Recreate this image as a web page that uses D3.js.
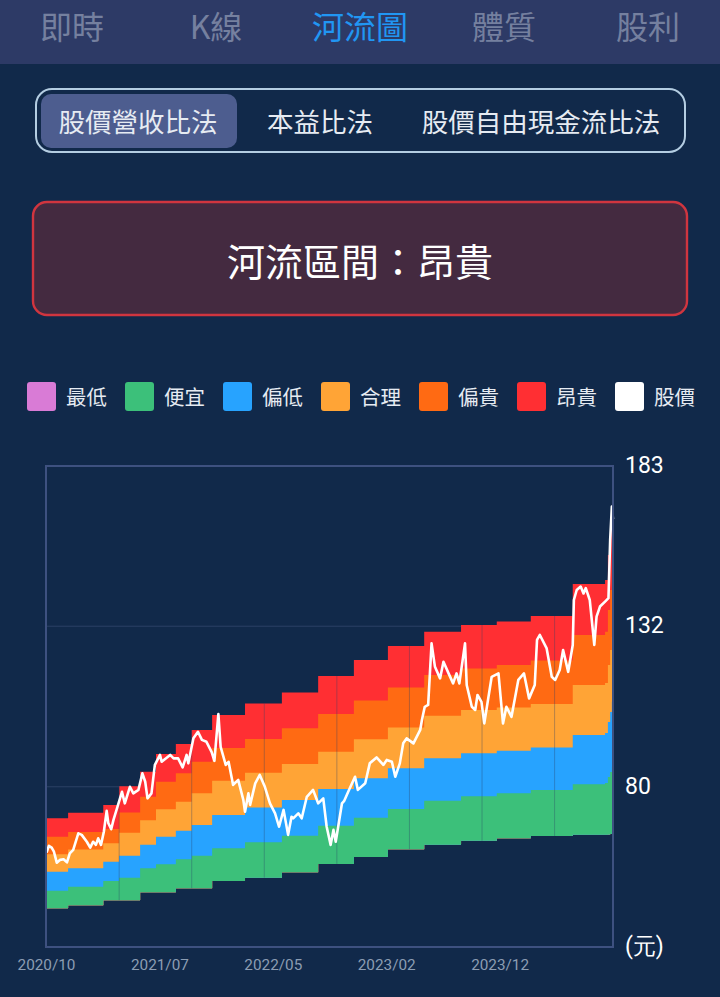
<!DOCTYPE html>
<html>
<head>
<meta charset="utf-8">
<title>河流圖</title>
<script src="https://cdn.jsdelivr.net/npm/d3@7"></script>
<style>
html, body { margin: 0; padding: 0; background: #11294a; }
svg { display: block; }
text { font-family: "Noto Sans CJK TC", sans-serif; }
.num text { font-family: Roboto, sans-serif; }
</style>
</head>
<body>
<div id="chart"></div>
<script>
// tabs and legend
var tabs = ["即時", "K線", "河流圖", "體質", "股利"];
var methods = ["股價營收比法", "本益比法", "股價自由現金流比法"];
var legendNames = ["最低", "便宜", "偏低", "合理", "偏貴", "昂貴", "股價"];
var legendColors = ["#d97bd6", "#3cc07a", "#27a3ff", "#ffa436", "#ff6a13", "#ff2f33", "#ffffff"];
var status = "河流區間\uFF1A昂貴";

// axes
var yTicks = [183, 131.7, 80.3, 29];
var xTicks = [0, 200, 400, 600, 800];
var xLabels = ["2020/10", "2021/07", "2022/05", "2023/02", "2023/12"];
var gridSessions = [129, 257, 385, 513, 641, 769, 897];

// river bands, one value per step, step starts at stepSessions
var stepSessions = [0, 39, 101, 129, 166, 194, 229, 257, 293, 351, 416, 480, 543, 603, 667, 732, 795, 855, 929, 986, 991, 995, 998, 1000];
var floorLine = [41.4, 42.4, 44.0, 44.0, 46.5, 46.5, 47.8, 47.8, 50.1, 51.2, 52.9, 55.6, 57.8, 60.3, 61.7, 63.0, 63.8, 64.5, 64.9, 64.9, 65.0, 65.2, 65.7, 65.7];
var cheapLine = [47.0, 48.3, 50.1, 51.2, 54.2, 55.5, 57.1, 58.2, 60.6, 62.5, 64.6, 67.8, 70.4, 73.2, 75.8, 77.3, 78.2, 79.3, 81.1, 81.5, 83.4, 85.0, 86.7, 86.7];
var lowLine = [53.1, 54.2, 56.3, 58.2, 61.7, 64.3, 66.2, 68.1, 71.3, 73.7, 76.1, 79.6, 83.0, 86.2, 89.4, 91.0, 91.8, 92.9, 96.9, 97.5, 101.0, 104.2, 107.5, 107.5];
var fairLine = [58.7, 60.2, 62.2, 65.6, 69.6, 73.1, 75.5, 78.2, 82.2, 84.8, 87.6, 91.5, 95.5, 99.3, 103.0, 104.9, 105.7, 106.8, 112.9, 113.5, 119.3, 124.1, 128.3, 128.3];
var highLine = [64.3, 65.8, 66.8, 72.1, 77.1, 81.9, 84.6, 88.3, 92.7, 95.6, 99.0, 103.6, 107.9, 112.1, 116.1, 118.2, 119.3, 120.7, 128.9, 129.9, 136.9, 143.3, 149.7, 149.7];
var dearLine = [70.2, 72.0, 74.5, 80.5, 85.1, 90.8, 94.0, 98.5, 103.3, 107.0, 110.5, 115.8, 120.9, 125.4, 129.9, 132.1, 133.2, 135.0, 145.2, 146.5, 154.5, 164.1, 169.9, 169.9];

// stock price
var priceSessions = [1, 5, 10, 14, 19, 25, 31, 37, 42, 48, 57, 63, 72, 78, 83, 88, 92, 97, 102, 107, 110, 115, 119, 126, 134, 139, 148, 154, 163, 170, 175, 179, 186, 192, 201, 204, 219, 225, 233, 241, 248, 251, 260, 268, 275, 283, 292, 297, 304, 308, 317, 322, 330, 339, 348, 351, 357, 360, 369, 377, 386, 395, 404, 411, 419, 427, 433, 436, 445, 451, 460, 471, 480, 489, 495, 502, 507, 511, 522, 526, 533, 545, 550, 563, 571, 583, 595, 601, 610, 616, 624, 630, 636, 648, 660, 663, 668, 674, 680, 686, 695, 701, 710, 718, 724, 729, 739, 742, 751, 757, 761, 768, 773, 786, 798, 806, 812, 821, 833, 843, 852, 862, 866, 871, 883, 892, 898, 906, 912, 921, 929, 931, 936, 943, 948, 952, 959, 967, 971, 977, 986, 992, 995, 998, 1000];
var priceValues = [59.2, 61.4, 60.8, 59.5, 56.0, 56.9, 57.1, 56.1, 59.0, 60.1, 65.4, 64.9, 62.7, 60.8, 62.7, 61.7, 63.8, 61.7, 65.9, 72.6, 68.6, 66.7, 69.7, 73.9, 78.7, 75.0, 80.3, 78.2, 79.3, 84.6, 81.9, 76.6, 78.2, 87.3, 90.5, 88.3, 90.5, 89.4, 89.4, 86.5, 90.5, 87.8, 95.8, 97.9, 95.3, 94.7, 91.5, 88.6, 103.6, 93.1, 87.3, 88.3, 80.9, 82.5, 76.1, 72.3, 78.2, 74.5, 81.4, 84.1, 80.3, 75.0, 71.8, 67.5, 72.9, 64.9, 70.7, 70.2, 71.8, 70.2, 77.1, 79.3, 75.0, 76.6, 67.5, 61.7, 66.5, 62.7, 75.0, 75.8, 78.7, 83.5, 79.3, 81.4, 87.8, 89.7, 87.3, 88.9, 88.3, 83.5, 87.8, 94.2, 95.8, 94.2, 98.5, 101.7, 105.9, 106.5, 126.2, 118.7, 115.0, 120.3, 116.6, 113.4, 116.6, 113.4, 126.2, 112.9, 105.9, 104.9, 109.7, 107.5, 100.6, 115.5, 116.6, 100.6, 105.9, 102.7, 114.5, 116.6, 108.6, 112.9, 127.3, 128.9, 124.6, 115.5, 114.5, 117.7, 124.1, 117.1, 125.7, 140.1, 143.3, 144.4, 142.2, 143.9, 140.1, 125.7, 134.8, 138.0, 139.6, 140.7, 159.3, 170.0, 166.0];

function init() {
    var w = 720;
    var h = 997;
    var plot = { left: 46, right: 613, top: 466, bottom: 947 };

    var svg = d3.select("#chart")
                .append("svg")
                .attr("width", w)
                .attr("height", h);

    svg.append("rect").attr("width", w).attr("height", h).attr("fill", "#11294a");

    drawHeader(svg, w);
    drawLegend(svg);

    var x = d3.scaleLinear().domain([0, 1000]).range([plot.left, plot.right]);
    var y = d3.scaleLinear().domain([29, 183]).range([plot.bottom, plot.top]);

    // horizontal grid under the bands
    svg.selectAll(".hgrid")
        .data(yTicks.slice(1, 3))
        .enter()
        .append("line")
        .attr("class", "hgrid")
        .attr("x1", plot.left)
        .attr("x2", plot.right)
        .attr("y1", d => y(d))
        .attr("y2", d => y(d))
        .attr("stroke", "#2c4166")
        .attr("stroke-width", 1);

    // painted top band first, each one reaches down to the floor so no seams show
    var bands = [
        { upper: dearLine, color: legendColors[5] },
        { upper: highLine, color: legendColors[4] },
        { upper: fairLine, color: legendColors[3] },
        { upper: lowLine, color: legendColors[2] },
        { upper: cheapLine, color: legendColors[1] }
    ];

    var area = d3.area()
        .curve(d3.curveStepAfter)
        .x(d => x(d.s))
        .y0(d => y(d.lo))
        .y1(d => y(d.hi));

    svg.selectAll(".band")
        .data(bands)
        .enter()
        .append("path")
        .attr("class", "band")
        .attr("fill", d => d.color)
        .attr("d", d => area(stepSessions.map((s, i) => ({ s: s, lo: floorLine[i], hi: d.upper[i] }))));

    // vertical grid only shows through the bands
    var stepAt = d3.bisector(d => d).right;
    svg.selectAll(".vgrid")
        .data(gridSessions)
        .enter()
        .append("line")
        .attr("class", "vgrid")
        .attr("x1", d => x(d))
        .attr("x2", d => x(d))
        .attr("y1", d => y(dearLine[stepAt(stepSessions, d) - 1]))
        .attr("y2", d => y(floorLine[stepAt(stepSessions, d) - 1]))
        .attr("stroke", "#2c4166")
        .attr("stroke-opacity", 0.35)
        .attr("stroke-width", 1);

    var line = d3.line()
        .x((d, i) => x(priceSessions[i]))
        .y(d => y(d));

    svg.append("path")
        .attr("d", line(priceValues))
        .attr("fill", "none")
        .attr("stroke", "#ffffff")
        .attr("stroke-width", 2.6)
        .attr("stroke-linejoin", "round");

    // frame
    svg.append("rect")
        .attr("x", plot.left)
        .attr("y", plot.top)
        .attr("width", plot.right - plot.left)
        .attr("height", plot.bottom - plot.top)
        .attr("fill", "none")
        .attr("stroke", "#3e5180")
        .attr("stroke-width", 2);

    var yAxis = d3.axisRight(y)
        .tickValues(yTicks)
        .tickSize(0)
        .tickPadding(12)
        .tickFormat(d => d === 29 ? "(元)" : d3.format(".0f")(d));

    var yG = svg.append("g")
        .attr("class", "num")
        .attr("transform", `translate(${plot.right},0)`)
        .call(yAxis);
    yG.select(".domain").remove();
    yG.selectAll("text").attr("fill", "#ffffff").attr("font-size", 23).attr("dy", "0.28em");

    var xAxis = d3.axisBottom(x)
        .tickValues(xTicks)
        .tickSize(0)
        .tickPadding(12)
        .tickFormat((d, i) => xLabels[i]);

    var xG = svg.append("g")
        .attr("class", "num")
        .attr("transform", `translate(0,${plot.bottom})`)
        .call(xAxis);
    xG.select(".domain").remove();
    xG.selectAll("text").attr("fill", "#8c9db3").attr("font-size", 15.3);
}

function drawHeader(svg, w) {
    svg.append("rect").attr("width", w).attr("height", 64).attr("fill", "#2d3a66");

    svg.selectAll(".tab")
        .data(tabs)
        .enter()
        .append("text")
        .attr("class", "tab")
        .attr("x", (d, i) => 72 + i * 144)
        .attr("y", 39)
        .attr("text-anchor", "middle")
        .attr("font-size", 32)
        .attr("fill", (d, i) => i === 2 ? "#2196f3" : "#75809f")
        .text(d => d);

    svg.append("rect")
        .attr("x", 36).attr("y", 89)
        .attr("width", 649).attr("height", 63)
        .attr("rx", 16)
        .attr("fill", "none")
        .attr("stroke", "#b4cde2")
        .attr("stroke-width", 2);

    svg.append("rect")
        .attr("x", 41).attr("y", 94)
        .attr("width", 196).attr("height", 54)
        .attr("rx", 10)
        .attr("fill", "#4d5d8f");

    var methodX = [138, 320, 541];
    svg.selectAll(".method")
        .data(methods)
        .enter()
        .append("text")
        .attr("class", "method")
        .attr("x", (d, i) => methodX[i])
        .attr("y", 132)
        .attr("text-anchor", "middle")
        .attr("font-size", 26.5)
        .attr("fill", "#e6ebf2")
        .text(d => d);

    svg.append("rect")
        .attr("x", 33).attr("y", 202)
        .attr("width", 654).attr("height", 113)
        .attr("rx", 14)
        .attr("fill", "#442a40")
        .attr("stroke", "#d0353f")
        .attr("stroke-width", 2.4);

    svg.append("text")
        .attr("x", 360)
        .attr("y", 276)
        .attr("text-anchor", "middle")
        .attr("font-size", 38)
        .attr("fill", "#ffffff")
        .text(status);
}

function drawLegend(svg) {
    var g = svg.selectAll(".legend")
        .data(legendNames)
        .enter()
        .append("g")
        .attr("class", "legend")
        .attr("transform", (d, i) => `translate(${27 + i * 98},382)`);

    g.append("rect")
        .attr("width", 29)
        .attr("height", 29)
        .attr("rx", 3)
        .attr("fill", (d, i) => legendColors[i]);

    g.append("text")
        .attr("x", 39)
        .attr("y", 23)
        .attr("font-size", 20.5)
        .attr("fill", "#e6ebf2")
        .text(d => d);
}

window.onload = init;
</script>
</body>
</html>
